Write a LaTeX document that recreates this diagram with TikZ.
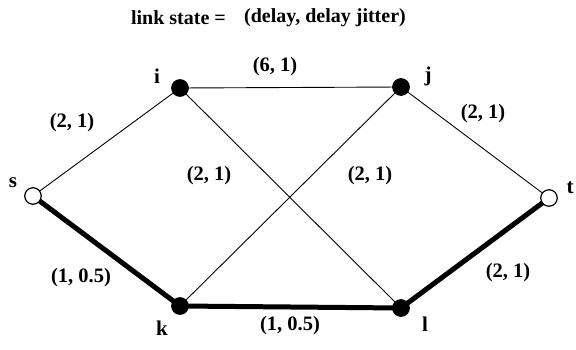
\documentclass[tikz,border=0pt]{standalone}
\usepackage{fontspec}
\setmainfont{Liberation Serif}
\begin{document}
\begin{tikzpicture}[x=1pt,y=-1pt,
  vtx/.style={circle,draw=black,line width=1.2pt,minimum size=16.5pt,inner sep=0pt},
  fullvtx/.style={vtx,fill=black},
  openvtx/.style={vtx,fill=white},
  thinedge/.style={line width=0.9pt},
  thickedge/.style={line width=5pt},
  lbl/.style={font=\fontsize{20.5}{22}\selectfont\bfseries,inner sep=0pt},
  vlbl/.style={font=\fontsize{21}{23}\selectfont\bfseries,inner sep=0pt},
  ttl/.style={font=\fontsize{20}{22}\selectfont\bfseries,inner sep=0pt}]
\useasboundingbox (0,0) rectangle (576,350);
% vertices
\coordinate (sp) at (33,196);
\coordinate (ip) at (180,88);
\coordinate (jp) at (401,87);
\coordinate (tp) at (549,198);
\coordinate (kp) at (180,306);
\coordinate (lp) at (401,308);
% edges
\draw[thinedge] (sp) -- (ip);
\draw[thinedge] (ip) -- (jp);
\draw[thinedge] (ip) -- (lp);
\draw[thinedge] (jp) -- (kp);
\draw[thinedge] (jp) -- (tp);
\draw[thickedge] (sp) -- (kp);
\draw[thickedge] (kp) -- (lp);
\draw[thickedge] (lp) -- (tp);
\node[openvtx] (s) at (sp) {};
\node[fullvtx] (i) at (ip) {};
\node[fullvtx] (j) at (jp) {};
\node[openvtx] (t) at (tp) {};
\node[fullvtx] (k) at (kp) {};
\node[fullvtx] (l) at (lp) {};
% vertex labels
\node[vlbl] (sl) at (13,183) {s};
\node[vlbl] (il) at (157,76) {i};
\node[vlbl] (jl) at (428,76) {j};
\node[vlbl] (tl) at (570,188) {t};
\node[vlbl] (kl) at (162,328) {k};
\node[vlbl] (ll) at (425,324) {l};
% edge labels
\node[lbl] (e1) at (72,123) {(2, 1)};
\node[lbl] (e2) at (275,67) {(6, 1)};
\node[lbl] (e3) at (483,114) {(2, 1)};
\node[lbl] (e4) at (209,176) {(2, 1)};
\node[lbl] (e5) at (370,176) {(2, 1)};
\node[lbl] (e6) at (81,278) {(1, 0.5)};
\node[lbl] (e7) at (290,326) {(1, 0.5)};
\node[lbl] (e8) at (508,273) {(2, 1)};
% title
\node[ttl,anchor=east] (ttl1) at (226,18) {link state =};
\node[ttl,anchor=west] (ttl2) at (244,18) {(delay, delay jitter)};
\end{tikzpicture}
\end{document}
